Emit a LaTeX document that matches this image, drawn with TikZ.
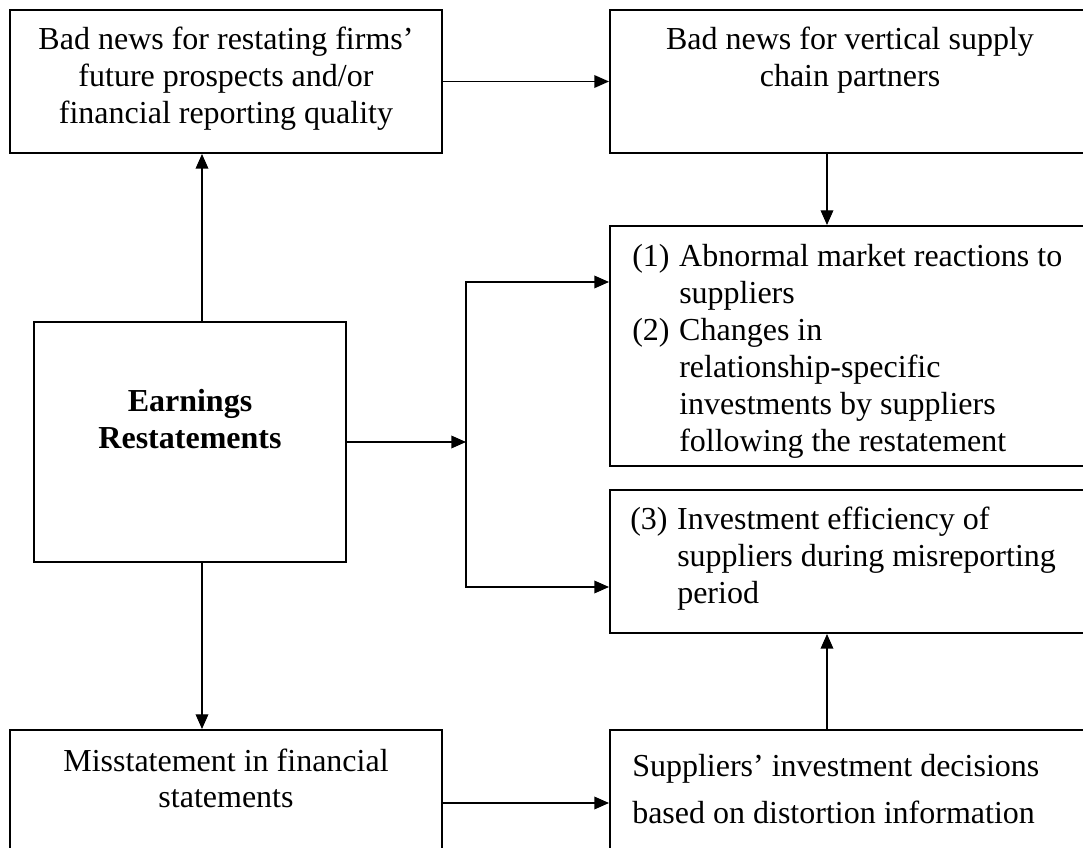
\documentclass[tikz,border=0pt]{standalone}
\usepackage{fontspec}
\setmainfont{Liberation Serif}
\usetikzlibrary{arrows.meta,fit}

% multi-line text blocks whose baseline is the first line
\newcommand\centerlines[1]{\vtop{\halign{\hfil##\hfil\cr#1\crcr}}}
\newcommand\leftlines[1]{\vtop{\halign{##\hfil\cr#1\crcr}}}
\newcommand\itemlines[1]{\vtop{\halign{\hbox to 35.25pt{##\hfil}&##\hfil\cr#1\crcr}}}

\begin{document}
\begin{tikzpicture}[x=0.75pt,y=-0.75pt,
  box/.style={draw,line width=1.5pt,inner sep=0pt},
  txt/.style={inner sep=0pt,font=\fontsize{24}{27.75}\selectfont},
  conn/.style={line width=1pt},
  arr/.style={conn,-{Triangle[length=11pt,width=9.5pt]}}]
\useasboundingbox (0,0) rectangle (1083,848);
\clip (0,0) rectangle (1083,848);
\fill[white] (0,0) rectangle (1083,848);

% boxes
\node[box,fit={(10,10) (442,153)}] (A) {};
\node[box,fit={(610,10) (1092,153)}] (B) {};
\node[box,fit={(34,322) (346,562)}] (E) {};
\node[box,fit={(610,226) (1092,466)}] (R1) {};
\node[box,fit={(610,490) (1092,633)}] (R2) {};
\node[box,fit={(10,730) (442,862)}] (C) {};
\node[box,fit={(610,730) (1092,862)}] (D) {};

% texts
\node[txt,anchor=base] (At) at (226,50) {\centerlines{Bad news for restating firms’\cr future prospects and/or\cr financial reporting quality}};
\node[txt,anchor=base] (Bt) at (850,50) {\centerlines{Bad news for vertical supply\cr chain partners}};
\node[txt,anchor=base,font=\fontsize{24}{27.75}\selectfont\bfseries] (Et) at (190,412) {\centerlines{Earnings\cr Restatements}};
\node[txt,anchor=base west] (R1t) at (632,267) {\itemlines{(1)&Abnormal market reactions to\cr &suppliers\cr (2)&Changes in\cr &relationship-specific\cr &investments by suppliers\cr &following the restatement}};
\node[txt,anchor=base west] (R2t) at (630,530) {\itemlines{(3)&Investment efficiency of\cr &suppliers during misreporting\cr &period}};
\node[txt,anchor=base] (Ct) at (226,771) {\centerlines{Misstatement in financial\cr statements}};
\node[txt,anchor=base west,font=\fontsize{24}{35.25}\selectfont] (Dt) at (632,777) {\leftlines{Suppliers’ investment decisions\cr based on distortion information}};

% connector guides
\coordinate (V) at (202,0);
\coordinate (X) at (827,0);
\coordinate (J1) at (466,282);
\coordinate (J2) at (466,587);
\coordinate (H) at (0,803);

% connectors
\draw[arr] (A.east) -- (B.west);
\draw[arr] (E.north -| V) -- (A.south -| V);
\draw[arr] (E.south -| V) -- (C.north -| V);
\draw[arr] (B.south -| X) -- (R1.north -| X);
\draw[arr] (D.north -| X) -- (R2.south -| X);
\draw[arr] (E.east) -- (E.east -| J1);
\draw[arr] (J2) -- (J1) -- (J1 -| R1.west);
\draw[arr] (J1) -- (J2) -- (J2 -| R2.west);
\draw[arr] (C.east |- H) -- (D.west |- H);
\end{tikzpicture}
\end{document}
